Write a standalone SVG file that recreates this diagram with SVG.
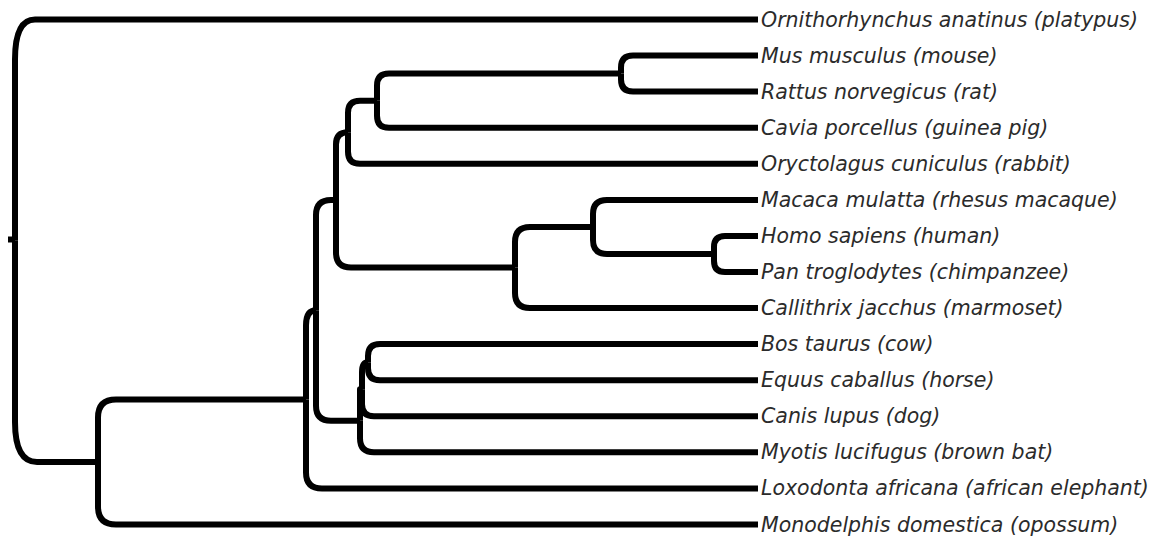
<svg xmlns="http://www.w3.org/2000/svg" width="1167" height="543" viewBox="0 0 1167 543">
<style>
.e{fill:none;stroke:#000;stroke-width:6;stroke-linejoin:round;stroke-linecap:butt}
.t{font-family:"DejaVu Sans","Liberation Sans",sans-serif;font-style:italic;font-size:20.5px;fill:#2b2b2b}
</style>
<rect width="1167" height="543" fill="#fff"/>
<g id="connectors">
<path class="e" d="M8,239.5 H15" stroke-width="9"/>
<path class="e" d="M15,240.7 V59.5 Q15,19.5 35,19.5 H758"/>
<path class="e" d="M15,240.7 V422 Q15,462 37,462 H98"/>
<path class="e" d="M98,462 V417.4 Q98,399.4 116,399.4 H306"/>
<path class="e" d="M98,462 V506.5 Q98,524.5 116,524.5 H758"/>
<path class="e" d="M306,399.4 V325.3 Q306,310.3 316,310.3"/>
<path class="e" d="M306,399.4 V472.4 Q306,488.4 322,488.4 H758"/>
<path class="e" d="M316,310.3 V214.9 Q316,199.9 331,199.9 H336"/>
<path class="e" d="M316,310.3 V405.8 Q316,420.8 331,420.8 H360"/>
<path class="e" d="M336,199.9 V144.2 Q336,132.2 348,132.2"/>
<path class="e" d="M336,199.9 V252.5 Q336,267.5 351,267.5 H515"/>
<path class="e" d="M348,132.2 V112.7 Q348,100.7 360,100.7 H377"/>
<path class="e" d="M348,132.2 V151.8 Q348,163.8 360,163.8 H758"/>
<path class="e" d="M377,100.7 V85.6 Q377,73.6 389,73.6 H621"/>
<path class="e" d="M377,100.7 V115.7 Q377,127.7 389,127.7 H758"/>
<path class="e" d="M621,73.6 V67.6 Q621,55.6 633,55.6 H758"/>
<path class="e" d="M621,73.6 V79.6 Q621,91.6 633,91.6 H758"/>
<path class="e" d="M515,267.5 V242 Q515,227 530,227 H593"/>
<path class="e" d="M515,267.5 V293.1 Q515,308.1 530,308.1 H758"/>
<path class="e" d="M593,227 V213.9 Q593,199.9 607,199.9 H758"/>
<path class="e" d="M593,227 V240 Q593,254 607,254 H714"/>
<path class="e" d="M714,254 V246.9 Q714,235.9 725,235.9 H758"/>
<path class="e" d="M714,254 V261 Q714,272 725,272 H758"/>
<path class="e" d="M360,420.8 V389.2 H362"/>
<path class="e" d="M360,420.8 V438.3 Q360,452.3 374,452.3 H758"/>
<path class="e" d="M362,389.2 V372.2 Q362,362.2 368,362.2"/>
<path class="e" d="M362,389.2 V404.3 Q362,416.3 374,416.3 H758"/>
<path class="e" d="M368,362.2 V356.1 Q368,344.1 380,344.1 H758"/>
<path class="e" d="M368,362.2 V368.2 Q368,380.2 380,380.2 H758"/>
</g>
<g id="platypus"><text class="t" x="761" y="26.5">Ornithorhynchus anatinus (platypus)</text></g>
<g id="mouse"><text class="t" x="761" y="62.6">Mus musculus (mouse)</text></g>
<g id="rat"><text class="t" x="761" y="98.6">Rattus norvegicus (rat)</text></g>
<g id="guinea_pig"><text class="t" x="761" y="134.7">Cavia porcellus (guinea pig)</text></g>
<g id="rabbit"><text class="t" x="761" y="170.8">Oryctolagus cuniculus (rabbit)</text></g>
<g id="macaque"><text class="t" x="761" y="206.9">Macaca mulatta (rhesus macaque)</text></g>
<g id="human"><text class="t" x="761" y="242.9">Homo sapiens (human)</text></g>
<g id="chimpanzee"><text class="t" x="761" y="279">Pan troglodytes (chimpanzee)</text></g>
<g id="marmoset"><text class="t" x="761" y="315.1">Callithrix jacchus (marmoset)</text></g>
<g id="cow"><text class="t" x="761" y="351.1">Bos taurus (cow)</text></g>
<g id="horse"><text class="t" x="761" y="387.2">Equus caballus (horse)</text></g>
<g id="dog"><text class="t" x="761" y="423.3">Canis lupus (dog)</text></g>
<g id="bat"><text class="t" x="761" y="459.3">Myotis lucifugus (brown bat)</text></g>
<g id="elephant"><text class="t" x="761" y="495.4">Loxodonta africana (african elephant)</text></g>
<g id="opossum"><text class="t" x="761" y="531.5">Monodelphis domestica (opossum)</text></g>
</svg>
